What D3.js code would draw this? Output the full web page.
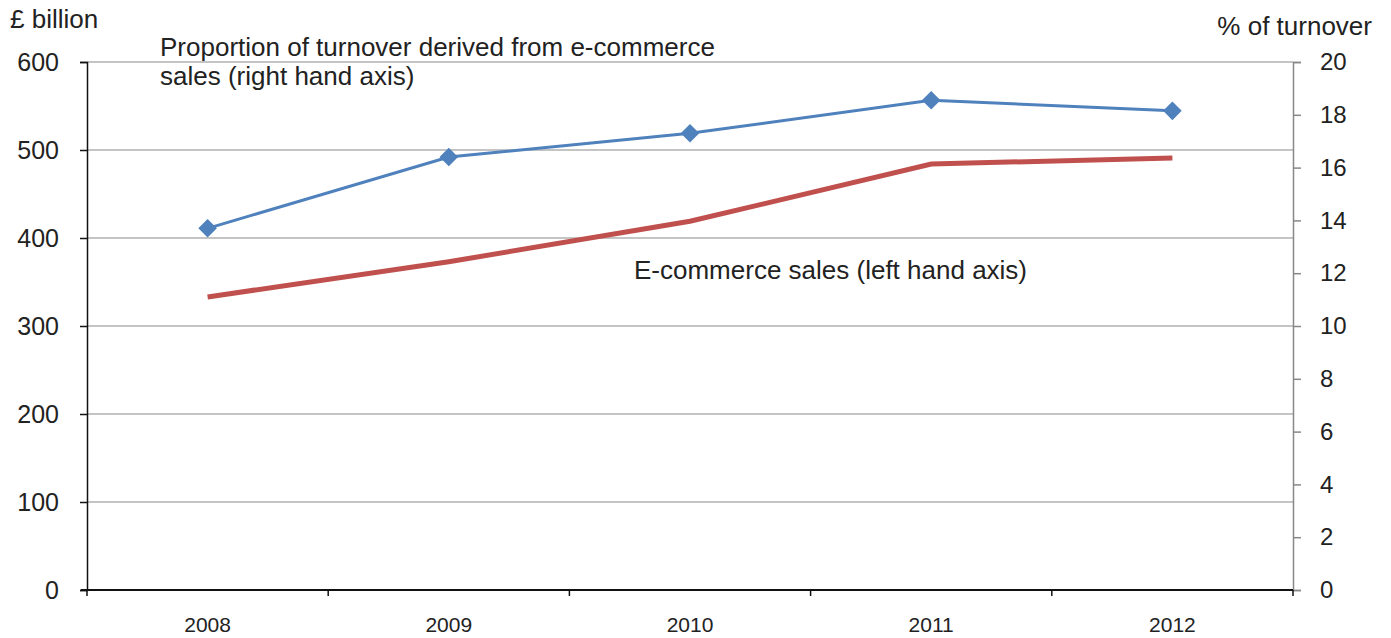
<!DOCTYPE html>
<html>
<head>
<meta charset="utf-8">
<script src="https://cdn.jsdelivr.net/npm/d3@7"></script>
<style>
  body { margin: 0; background: #fff; }
  text { font-family: "Liberation Sans", Arial, sans-serif; fill: #222; }
</style>
</head>
<body>
<svg id="chart" width="1391" height="638"></svg>
<script>
// Years and the two series
const years = ["2008", "2009", "2010", "2011", "2012"];
const salesBillion = [333, 373, 419, 484, 491];          // £ billion, left axis
const shareOfTurnover = [13.7, 16.4, 17.3, 18.55, 18.15]; // %, right axis
const leftTicks = [0, 100, 200, 300, 400, 500, 600];
const rightTicks = [0, 2, 4, 6, 8, 10, 12, 14, 16, 18, 20];

const svg = d3.select("#chart");
const plotLeft = 87, plotRight = 1293, plotTop = 62, plotBottom = 590;

const x = d3.scaleBand().domain(years).range([plotLeft, plotRight]);
const yL = d3.scaleLinear().domain([0, 600]).range([plotBottom, plotTop]);
const yR = d3.scaleLinear().domain([0, 20]).range([plotBottom, plotTop]);

// horizontal gridlines
svg.append("g").selectAll("line").data(leftTicks.filter(d => d > 0)).join("line")
  .attr("x1", plotLeft).attr("x2", plotRight)
  .attr("y1", d => yL(d)).attr("y2", d => yL(d))
  .attr("stroke", "#c4c4c4").attr("stroke-width", 2);

// left axis
const gL = svg.append("g").attr("transform", `translate(${plotLeft},0)`)
  .call(d3.axisLeft(yL).tickValues(leftTicks).tickSize(7).tickPadding(21));
gL.select(".domain").attr("stroke", "#111").attr("stroke-width", 1.5);
gL.selectAll(".tick line").attr("stroke", "#111").attr("stroke-width", 1.5);
gL.selectAll(".tick text").style("font-size", "25px").attr("fill", "#222");

// right axis
const gR = svg.append("g").attr("transform", `translate(${plotRight},0)`)
  .call(d3.axisRight(yR).tickValues(rightTicks).tickSize(8).tickPadding(19));
gR.select(".domain").attr("stroke", "#888").attr("stroke-width", 1.5);
gR.selectAll(".tick line").attr("stroke", "#888").attr("stroke-width", 1.5);
gR.selectAll(".tick text").style("font-size", "24px").attr("fill", "#222");

// bottom axis: ticks between categories
const gX = svg.append("g").attr("transform", `translate(0,${plotBottom})`);
gX.append("line").attr("x1", plotLeft - 6).attr("x2", plotRight).attr("stroke", "#111").attr("stroke-width", 2);
const bounds = years.map(d => x(d)).concat([plotRight]);
gX.selectAll("line.tk").data(bounds).join("line").attr("class", "tk")
  .attr("x1", d => d).attr("x2", d => d).attr("y1", 0).attr("y2", 6)
  .attr("stroke", "#111").attr("stroke-width", 1.5);
gX.selectAll("text").data(years).join("text")
  .attr("x", d => x(d) + x.bandwidth() / 2).attr("y", 42)
  .attr("text-anchor", "middle").style("font-size", "21px").text(d => d);

const cx = d => x(d) + x.bandwidth() / 2;

// e-commerce sales line
svg.append("path").datum(salesBillion)
  .attr("fill", "none").attr("stroke", "#C0504D").attr("stroke-width", 5)
  .attr("d", d3.line().x((d, i) => cx(years[i])).y(d => yL(d)));

// share of turnover line with diamond markers
svg.append("path").datum(shareOfTurnover)
  .attr("fill", "none").attr("stroke", "#4F81BD").attr("stroke-width", 3)
  .attr("d", d3.line().x((d, i) => cx(years[i])).y(d => yR(d)));
svg.append("g").selectAll("path").data(shareOfTurnover).join("path")
  .attr("d", d3.symbol().type(d3.symbolDiamond2).size(220))
  .attr("transform", (d, i) => `translate(${cx(years[i])},${yR(d)})`)
  .attr("fill", "#4F81BD");

// axis titles
svg.append("text").attr("x", 10).attr("y", 28).style("font-size", "26px").text("£ billion");
svg.append("text").attr("x", 1372).attr("y", 35).attr("text-anchor", "end")
  .style("font-size", "26px").text("% of turnover");

// series labels
const lab = svg.append("text").style("font-size", "26px");
lab.append("tspan").attr("x", 160).attr("y", 56).text("Proportion of turnover derived from e-commerce");
lab.append("tspan").attr("x", 160).attr("y", 85).text("sales (right hand axis)");
svg.append("text").attr("x", 634).attr("y", 279).style("font-size", "26px")
  .text("E-commerce sales (left hand axis)");
</script>
</body>
</html>
